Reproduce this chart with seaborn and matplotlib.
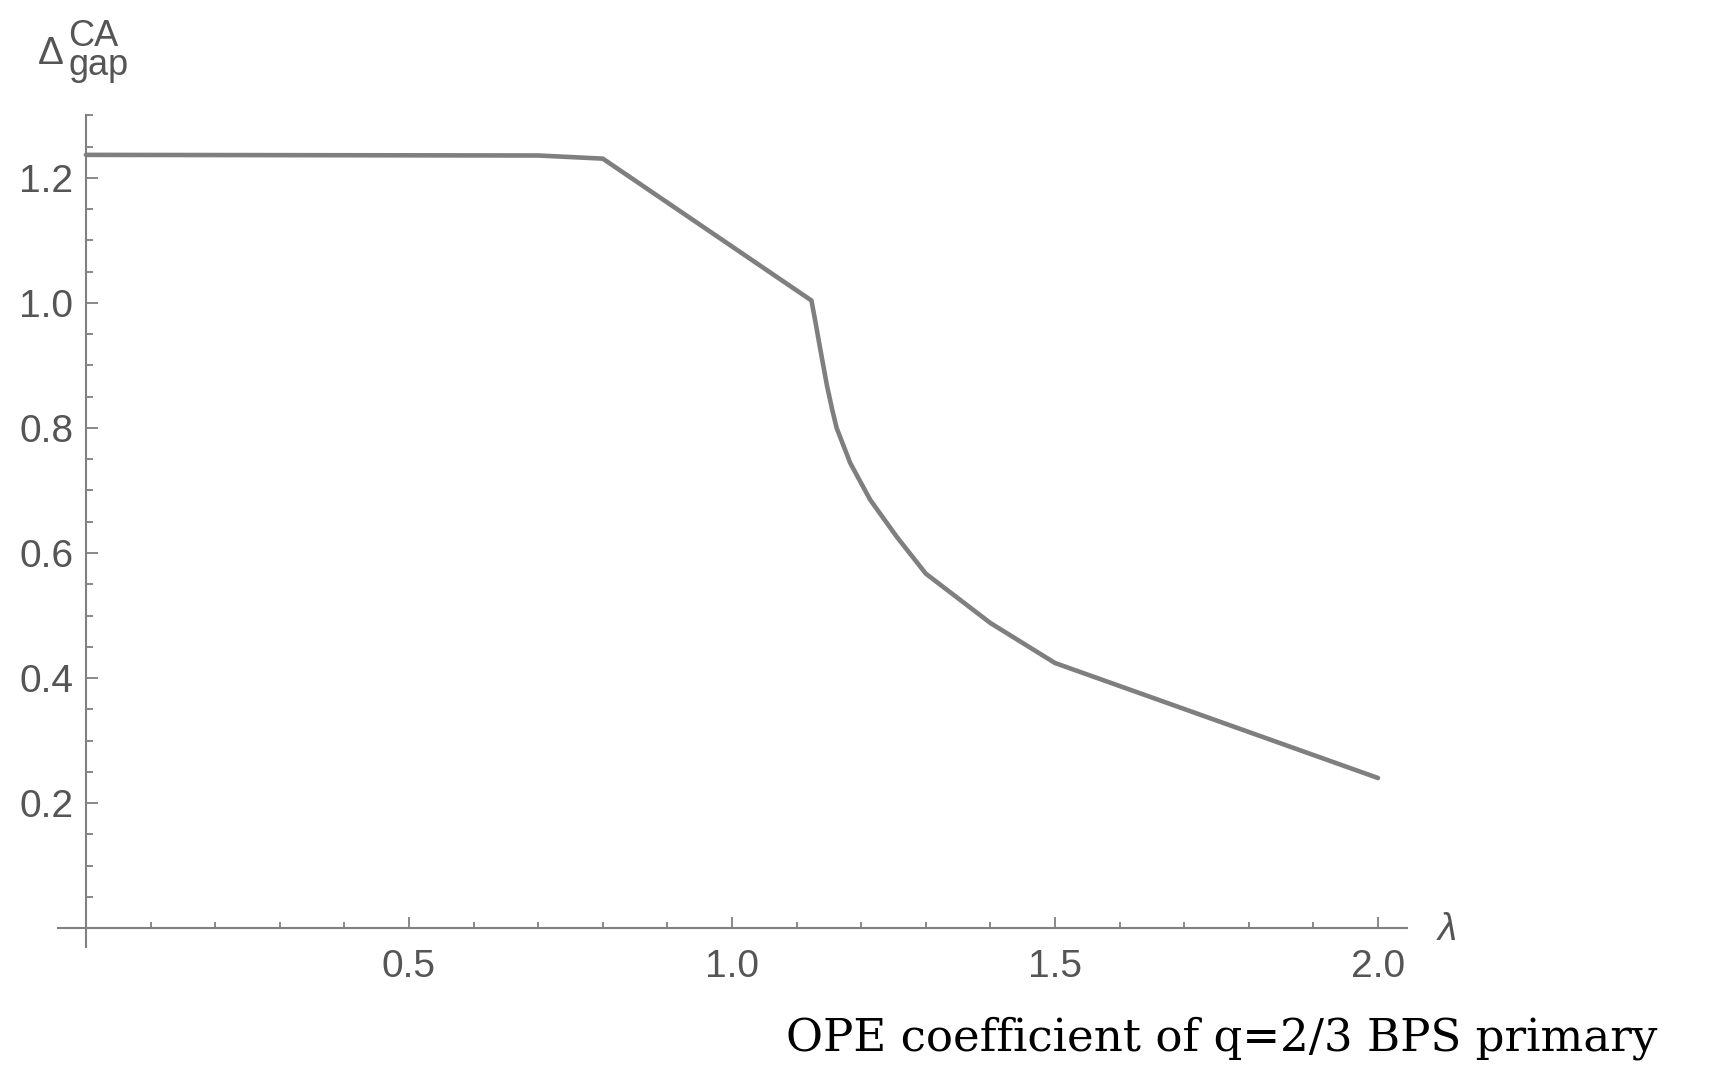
import numpy as np
import pandas as pd
import matplotlib
matplotlib.use("Agg")
import matplotlib.pyplot as plt
import seaborn as sns
from matplotlib.ticker import FixedLocator, NullFormatter

# Gap dimension versus coupling lambda
lam = [0.0, 0.70, 0.80, 1.123, 1.130, 1.136, 1.147, 1.155, 1.162, 1.183, 1.214, 1.255, 1.30, 1.40, 1.50, 2.00]
gap = [1.237, 1.236, 1.231, 1.004, 0.965, 0.930, 0.868, 0.830, 0.800, 0.744, 0.685, 0.626, 0.567, 0.488, 0.424, 0.240]

x_ticks = [0.5, 1.0, 1.5, 2.0]
x_tick_labels = ["0.5", "1.0", "1.5", "2.0"]
y_ticks = [0.2, 0.4, 0.6, 0.8, 1.0, 1.2]
y_tick_labels = ["0.2", "0.4", "0.6", "0.8", "1.0", "1.2"]
x_minor = [0.1, 0.2, 0.3, 0.4, 0.6, 0.7, 0.8, 0.9, 1.1, 1.2, 1.3, 1.4, 1.6, 1.7, 1.8, 1.9]
y_minor = [0.05, 0.1, 0.15, 0.25, 0.3, 0.35, 0.45, 0.5, 0.55, 0.65, 0.7, 0.75,
           0.85, 0.9, 0.95, 1.05, 1.1, 1.15, 1.25, 1.3]

caption = "OPE coefficient of q=2/3 BPS primary"

sns.set_theme(style="white")
plt.rcParams["font.family"] = ["Liberation Sans", "DejaVu Sans"]

W, H = 1713, 1066
fig = plt.figure(figsize=(W / 100, H / 100), dpi=100)
fig.patch.set_facecolor("white")

left_px, right_px, top_px, bottom_px = 58, 1407, 115, 947
ax = fig.add_axes([left_px / W, 1 - bottom_px / H, (right_px - left_px) / W, (bottom_px - top_px) / H])
ax.set_facecolor("white")

axis_gray = "#808080"
label_gray = "#555555"

df = pd.DataFrame({"lam": lam, "gap": gap})
sns.lineplot(data=df, x="lam", y="gap", ax=ax, color="#7f7f7f", linewidth=3.3,
             sort=False, estimator=None)

ax.set_xlim(-0.0433, 2.0449)
ax.set_ylim(-0.0304, 1.3008)

for side in ("top", "right"):
    ax.spines[side].set_visible(False)
for side in ("left", "bottom"):
    ax.spines[side].set_position(("data", 0))
    ax.spines[side].set_color(axis_gray)
    ax.spines[side].set_linewidth(1.5)

ax.xaxis.set_major_locator(FixedLocator(x_ticks))
ax.set_xticklabels(x_tick_labels)
ax.yaxis.set_major_locator(FixedLocator(y_ticks))
ax.set_yticklabels(y_tick_labels)
ax.xaxis.set_minor_locator(FixedLocator(x_minor))
ax.yaxis.set_minor_locator(FixedLocator(y_minor))
ax.xaxis.set_minor_formatter(NullFormatter())
ax.yaxis.set_minor_formatter(NullFormatter())

ax.tick_params(axis="both", which="both", direction="in", color=axis_gray, width=1.3,
               labelcolor=label_gray, labelsize=28, bottom=True, left=True,
               top=False, right=False)
ax.tick_params(axis="y", which="major", length=8.5, pad=9)
ax.tick_params(axis="y", which="minor", length=5)
ax.tick_params(axis="x", which="major", length=8, pad=15)
ax.tick_params(axis="x", which="minor", length=4.3)
ax.set_xlabel("")
ax.set_ylabel("")

# Axis names: lambda on the x axis, Delta with stacked super/subscript on the y axis
ax.text(2.107, -0.004, "λ", fontsize=28, style="italic", color=label_gray,
        ha="center", va="center", clip_on=False)
fig.text(38 / W, 1 - 64 / H, "Δ", fontsize=28, color=label_gray, ha="left", va="baseline")
fig.text(68 / W, 1 - 19 / H, "CA\ngap", fontsize=26, color=label_gray, ha="left", va="top",
         linespacing=0.78)

fig.text(1222 / W, 1 - 1051 / H, caption, fontsize=32.5, color="black",
         family="DejaVu Serif", ha="center", va="baseline")

fig.savefig("out.png", dpi=100, facecolor="white")
